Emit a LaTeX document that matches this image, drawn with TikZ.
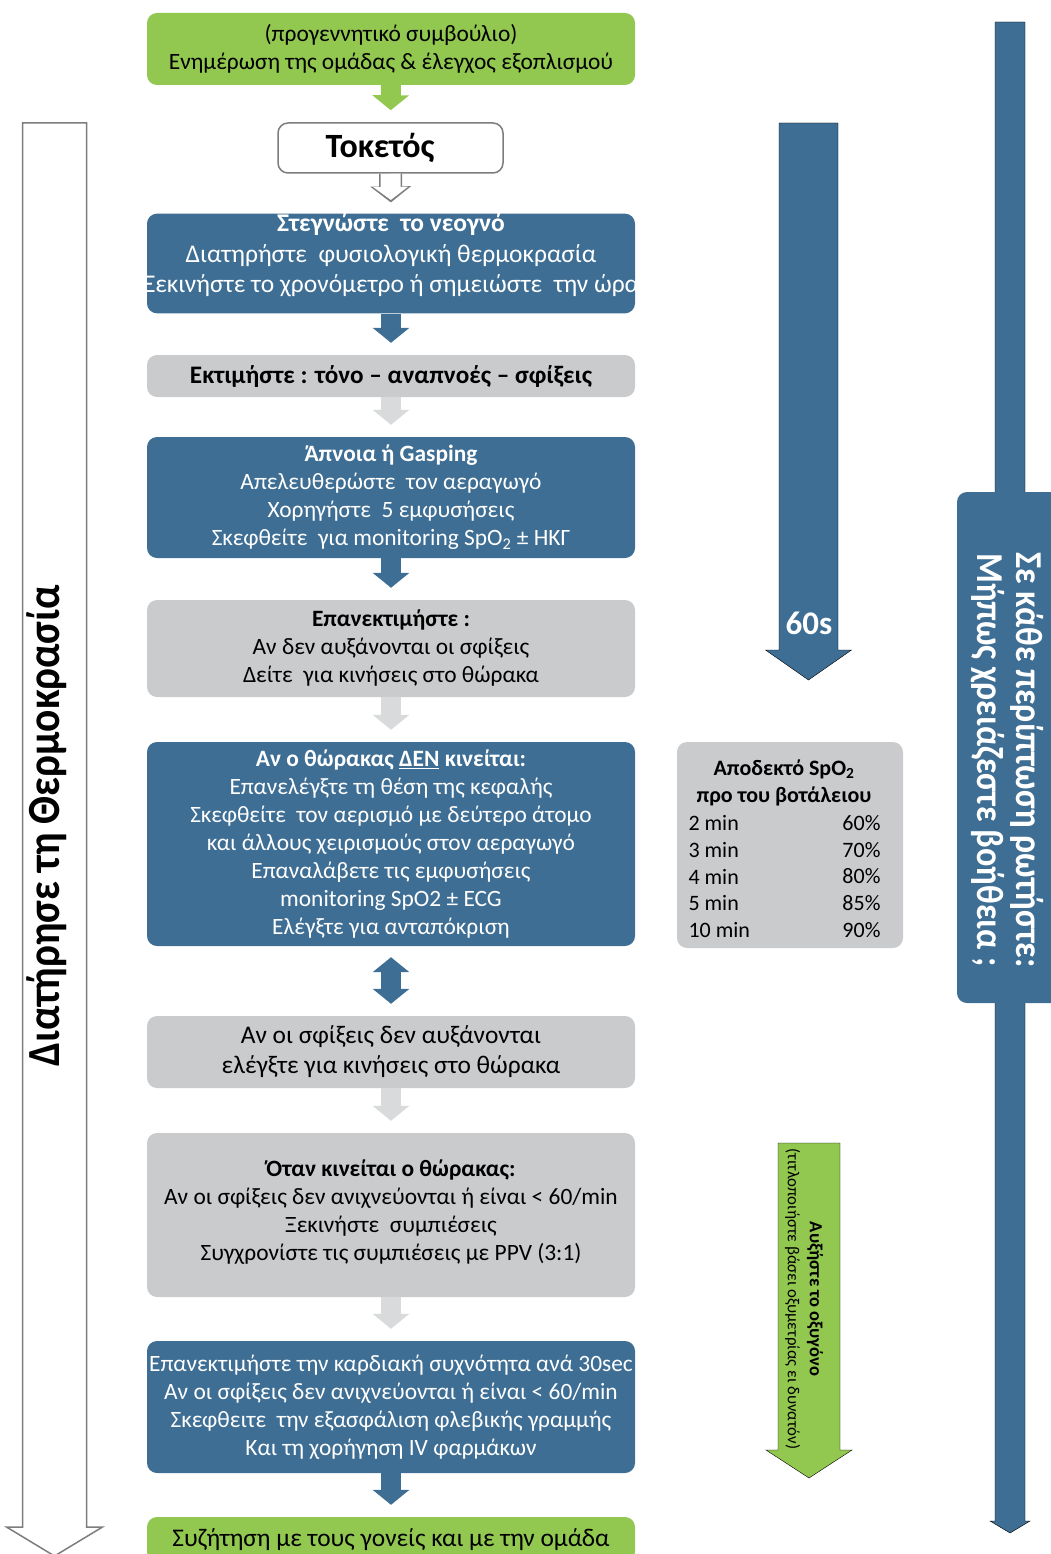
\documentclass[tikz,border=0pt]{standalone}
\usepackage{fontspec}
\setmainfont{Carlito}
\newfontfamily\condfont{Carlito}[FakeStretch=0.9]
\usepackage{tikz}
\usetikzlibrary{shapes,positioning,arrows.meta,calc}
\definecolor{algblue}{RGB}{62,110,148}
\definecolor{alggreen}{RGB}{146,200,80}
\definecolor{alggray}{RGB}{201,203,205}
\definecolor{alglight}{RGB}{216,218,219}
\definecolor{algline}{RGB}{125,125,125}
% block arrow: style, x, top, tip, half shaft, half head, head length
\newcommand{\sidearrow}[7]{%
  \draw[#1] ({#2-#5},#3) -- ({#2-#5},{#4-#7}) -- ({#2-#6},{#4-#7}) -- (#2,#4)
    -- ({#2+#6},{#4-#7}) -- ({#2+#5},{#4-#7}) -- ({#2+#5},#3) -- cycle;}

\begin{document}
\begin{tikzpicture}[x=1pt,y=-1pt,
    box/.style={rectangle,rounded corners=10pt,minimum width=488pt,align=center,inner sep=0pt,
      font=\fontsize{23.4}{28}\selectfont},
    bluebox/.style={box,fill=algblue,text=white},
    graybox/.style={box,fill=alggray},
    greenbox/.style={box,fill=alggreen},
    flow/.style={line width=20pt,shorten >=12pt,-{Triangle[length=15pt,width=36pt]}},
    sidetext/.style={font=\condfont\bfseries\fontsize{46}{40}\selectfont,align=center}]
    \useasboundingbox (0,0) rectangle (1051,1554);
    \clip (0,0) rectangle (1051,1554);

    % side arrows
    \sidearrow{draw=algline,fill=white,line width=1.5pt}{54.5}{123}{1556}{32}{48}{29}
    \node[sidetext,rotate=90] (warm) at (47,826) {Διατήρησε τη Θερμοκρασία};
    \sidearrow{fill=algblue}{1010}{22}{1533}{15}{20}{12}
    \node[rectangle,rounded corners=10pt,fill=algblue,minimum width=124pt,minimum height=511pt]
      (helpbox) at (1019,747.5) {};
    \node[sidetext,text=white,rotate=-90,font=\condfont\bfseries\fontsize{38}{39}\selectfont]
      (help) at (1007.5,760) {Σε κάθε περίπτωση ρωτήστε:\\Μήπως χρειάζεστε βοήθεια ;};
    \sidearrow{fill=algblue}{808.5}{123}{680}{29.5}{43}{30}
    \node[text=white,font=\bfseries\fontsize{33}{33}\selectfont] (sec) at (809,623) {60s};
    \sidearrow{fill=alggreen}{809}{1143}{1478}{31}{43}{28}
    \node[rotate=-90,align=center,font=\fontsize{16.8}{22}\selectfont] (oxy) at (804,1299)
      {\textbf{\fontsize{18.5}{22}\selectfont Αυξήστε το οξυγόνο}\\(τιτλοποιήστε βάσει οξυμετρίας ει δυνατόν)};

    % main column
    \node[greenbox,minimum height=72pt] (g0) at (391,49)
      {(προγεννητικό συμβούλιο)\\Ενημέρωση της ομάδας \& έλεγχος εξοπλισμού};
    \node[rectangle,rounded corners=10pt,draw=algline,line width=1.5pt,fill=white,
      minimum width=225pt,minimum height=50pt,font=\bfseries\fontsize{34}{34}\selectfont]
      (tok) at (390.5,148) {Τοκετός\hspace{21pt}\mbox{}};
    \node[bluebox,minimum height=97pt,font=\fontsize{25.5}{30.5}\selectfont] (b1) at (391,263.5)
      {\textbf{Στεγνώστε~ το νεογνό}\\Διατηρήστε~ φυσιολογική θερμοκρασία\\
       \makebox[470pt]{Ξεκινήστε το χρονόμετρο~ή σημειώστε~ την ώρα}\\[-10pt]\mbox{}};
    \node[graybox,minimum height=42pt,font=\fontsize{25.2}{28}\selectfont] (b2) at (391,376)
      {\textbf{Εκτιμήστε : τόνο – αναπνοές – σφίξεις}};
    \node[bluebox,minimum height=121pt] (b3) at (391,497.5)
      {\textbf{Άπνοια ή Gasping}\\Απελευθερώστε~ τον αεραγωγό\\Χορηγήστε~ 5 εμφυσήσεις\\
       Σκεφθείτε~ για monitoring SpO\textsubscript{2} ± ΗΚΓ};
    \node[graybox,minimum height=97pt] (b4) at (391,648.5)
      {\textbf{Επανεκτιμήστε :}\\Αν δεν αυξάνονται οι σφίξεις\\Δείτε~ για κινήσεις στο θώρακα};
    \node[bluebox,minimum height=204pt] (b5) at (391,844)
      {\textbf{Αν ο θώρακας \underline{ΔΕΝ} κινείται:}\\Επανελέγξτε τη θέση της κεφαλής\\
       Σκεφθείτε~ τον αερισμό με δεύτερο άτομο\\και άλλους χειρισμούς στον αεραγωγό\\
       Επαναλάβετε τις εμφυσήσεις\\monitoring SpO2 ± ECG\\Ελέγξτε για ανταπόκριση};
    \node[graybox,minimum height=72pt,font=\fontsize{25.4}{30}\selectfont] (b6) at (391,1052)
      {Αν οι σφίξεις δεν αυξάνονται\\ελέγξτε για κινήσεις στο θώρακα};
    \node[graybox,minimum height=164pt] (b7) at (391,1215)
      {\textbf{Όταν κινείται ο θώρακας:}\\Αν οι σφίξεις δεν ανιχνεύονται ή είναι < 60/min\\
       Ξεκινήστε~ συμπιέσεις\\Συγχρονίστε τις συμπιέσεις με PPV (3:1)\\[-18pt]\mbox{}};
    \node[bluebox,minimum height=132pt] (b8) at (391,1407)
      {Επανεκτιμήστε την καρδιακή συχνότητα ανά 30sec\\
       Αν οι σφίξεις δεν ανιχνεύονται ή είναι < 60/min\\
       Σκεφθειτε~ την εξασφάλιση φλεβικής γραμμής\\Και τη χορήγηση IV φαρμάκων};
    \node[greenbox,minimum height=45pt,font=\fontsize{25.4}{28}\selectfont] (b9) at (391,1539.5)
      {Συζήτηση με τους γονείς και με την ομάδα};

    % connectors
    \draw[flow,alggreen] (g0) -- (tok);
    \draw[line width=23pt,algline,shorten >=11pt,-{Triangle[length=16pt,width=40pt]}] (tok.south) -- (b1.north);
    \draw[line width=20pt,white,shorten >=13.5pt,-{Triangle[length=13pt,width=34pt]}] (tok.south) -- (b1.north);
    \draw[flow,algblue] (b1) -- (b2);
    \draw[flow,alglight] (b2) -- (b3);
    \draw[flow,algblue] (b3) -- (b4);
    \draw[flow,alglight] (b4) -- (b5);
    \draw[flow,algblue,shorten <=11pt,{Triangle[length=15pt,width=36pt]}-{Triangle[length=15pt,width=36pt]}] (b5) -- (b6);
    \draw[flow,alglight] (b6) -- (b7);
    \draw[flow,alglight] (b7) -- (b8);
    \draw[flow,algblue] (b8) -- (b9);

    % SpO2 table
    \node[rectangle,rounded corners=10pt,fill=alggray,minimum width=226pt,minimum height=206pt]
      (spo) at (790,845) {};
    \node[align=center,font=\bfseries\fontsize{22}{27}\selectfont] (spotitle) at (784,782.5)
      {Αποδεκτό SpO\textsubscript{2}\\προ του βοτάλειου};
    \foreach \t/\p [count=\i] in {2 min/60, 3 min/70, 4 min/80, 5 min/85, 10 min/90}{
      \node[anchor=west,font=\fontsize{22}{22}\selectfont] (min\i) at (685,{823+26.75*(\i-1)}) {\t};
      \node[anchor=east,font=\fontsize{22}{22}\selectfont] (pct\i) at (884,{823+26.75*(\i-1)}) {\p\%};
    }
\end{tikzpicture}
\end{document}
